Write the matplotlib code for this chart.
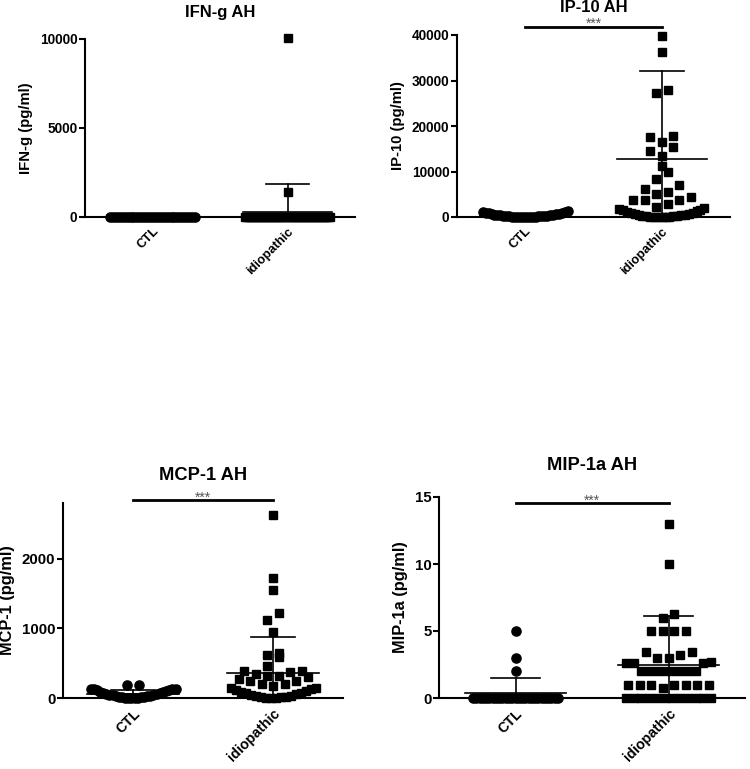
#!/usr/bin/env python3
"""Aqueous humour cytokines: CTL vs idiopathic, scatter dot plots with mean and SD."""

import matplotlib

matplotlib.use("Agg")
import matplotlib.pyplot as plt

plt.rcParams["font.family"] = ["Liberation Sans", "DejaVu Sans"]
plt.rcParams["font.weight"] = "bold"

GROUPS = ["CTL", "idiopathic"]

# values (pg/ml)
ifng_ctl = [0, 0, 0, 0, 0, 0, 0, 0, 0, 0, 0, 0, 0, 0, 0,
            0, 0, 0, 0, 0, 0, 0, 0, 0, 0, 0, 0, 0, 0, 0]
ifng_idio = [10060, 1410, 0, 0, 0, 0, 0, 0, 0, 0, 0, 0, 0, 0, 0,
             0, 0, 0, 0, 0, 0, 0, 0, 0, 0, 0, 0, 0, 0, 0,
             0, 0, 0, 0, 0, 0, 0, 0, 0, 0, 0, 0, 0, 0, 0]

ip10_ctl = [0, 5, 10, 20, 30, 45, 60, 80, 100, 120, 145, 170, 200, 230, 260,
            300, 340, 380, 430, 480, 530, 590, 650, 720, 790, 870, 950, 1040, 1150, 1380]
ip10_idio = [0, 5, 15, 30, 50, 80, 115, 160, 210, 270, 340, 420, 510, 610, 720,
             840, 970, 1110, 1260, 1430, 1620, 1830, 2050,
             2250, 2800, 3700, 3800, 3800, 4400, 5000, 5600, 6100, 7100, 8400, 9900,
             11200, 13400, 14500, 15400, 16400, 17500, 17800, 27200, 28000, 36300, 39800]

mcp1_ctl = [0, 1, 2, 4, 6, 9, 12, 15, 19, 23, 28, 33, 38, 44, 50,
            56, 63, 70, 77, 85, 93, 101, 110, 118, 125, 130, 133, 135, 185, 188]
mcp1_idio = [0, 2, 5, 9, 14, 20, 27, 35, 44, 54, 65, 77, 90, 104, 118, 130, 138, 142,
             170, 208, 208, 240, 245, 280, 305, 315, 320, 345, 375, 385, 385, 460,
             585, 620, 640, 945, 1125, 1220, 1550, 1720, 2630]

mip1a_ctl = [0, 0, 0, 0, 0, 0, 0, 0, 0, 0, 0, 0, 0, 0, 0,
             0, 0, 0, 0, 0, 0, 0, 0, 0, 0, 0, 0, 2, 3, 5]
mip1a_idio = [0, 0, 0, 0, 0, 0, 0, 0, 0, 0, 0, 0,
              0.75, 1, 1, 1, 1, 1, 1, 1,
              2, 2, 2, 2, 2, 2, 2, 2, 2.6, 2.6, 2.6, 2.7,
              3.0, 3.0, 3.2, 3.4, 3.4, 5, 5, 5, 5, 6.0, 6.3, 10, 13]

# mean and SD lines as drawn (CTL, idiopathic)
ifng_mean, ifng_sd = [0, 280], [0, 1560]
ip10_mean, ip10_sd = [330, 12700], [330, 19300]
mcp1_mean, mcp1_sd = [55, 362], [66, 508]
mip1a_mean, mip1a_sd = [0.4, 2.5], [1.1, 3.65]

PANELS = [
    dict(title="IFN-g AH", ylabel="IFN-g (pg/ml)", data=(ifng_ctl, ifng_idio),
         mean=ifng_mean, sd=ifng_sd, ymax=10000, yticks=[0, 5000, 10000],
         rect=(85, 39, 355, 217), stars=None, scale=1.0, title_off=19),
    dict(title="IP-10 AH", ylabel="IP-10 (pg/ml)", data=(ip10_ctl, ip10_idio),
         mean=ip10_mean, sd=ip10_sd, ymax=40000,
         yticks=[0, 10000, 20000, 30000, 40000],
         rect=(457, 35, 730, 217), stars=41800, scale=1.0, title_off=19.5),
    dict(title="MCP-1 AH", ylabel="MCP-1 (pg/ml)", data=(mcp1_ctl, mcp1_idio),
         mean=mcp1_mean, sd=mcp1_sd, ymax=2800, yticks=[0, 1000, 2000],
         rect=(63, 503, 343, 698), stars=2840, scale=1.1, title_off=20),
    dict(title="MIP-1a AH", ylabel="MIP-1a (pg/ml)", data=(mip1a_ctl, mip1a_idio),
         mean=mip1a_mean, sd=mip1a_sd, ymax=15, yticks=[0, 5, 10, 15],
         rect=(439, 497, 745, 698), stars=14.55, scale=1.1, title_off=23),
]

W, H = 750, 769


def swarm_offsets(values, ypx, step=11.5, max_span=85, row_h=10):
    """Prism-like layout: bin into rows, spread each row from the centre out."""
    order = sorted(range(len(values)), key=lambda i: values[i])
    offsets = [0.0] * len(values)
    i = 0
    while i < len(order):
        start = ypx(values[order[i]])
        row = [order[i]]
        j = i + 1
        while j < len(order) and ypx(values[order[j]]) - start < row_h:
            row.append(order[j])
            j += 1
        k = len(row)
        gap = step if k < 2 else min(step, max_span / (k - 1))
        slots = sorted(((s - (k - 1) / 2) * gap for s in range(k)), key=lambda o: (abs(o), o))
        for idx, off in zip(row, slots):
            offsets[idx] = off
        i = j
    return offsets


def draw_panel(fig, p):
    x0, y0, x1, y1 = p["rect"]
    ax = fig.add_axes([x0 / W, 1 - y1 / H, (x1 - x0) / W, (y1 - y0) / H])
    ax.set_xlim(0, 2)
    ax.set_ylim(0, p["ymax"])
    sc = p["scale"]

    px_x = (x1 - x0) / 2.0
    px_y = (y1 - y0) / p["ymax"]
    centres = [0.5, 1.5]
    markers = [("o", 6.6), ("s", 6.0)]

    for c, vals, (mk, ms) in zip(centres, p["data"], markers):
        offs = swarm_offsets(vals, lambda v: v * px_y)
        xs = [c + o / px_x for o in offs]
        ax.plot(xs, vals, linestyle="none", marker=mk, markersize=ms,
                color="black", clip_on=False, zorder=3)

    for c, m, s in zip(centres, p["mean"], p["sd"]):
        ax.plot([c - 0.33, c + 0.33], [m, m], color="black", lw=1.2, zorder=4)
        if s > 0:
            ax.plot([c, c], [max(m - s, 0), m + s], color="black", lw=1.2, zorder=4)
            ax.plot([c - 0.16, c + 0.16], [m + s, m + s], color="black", lw=1.2, zorder=4)

    if p["stars"] is not None:
        ax.plot(centres, [p["stars"]] * 2, color="black", lw=2.0, clip_on=False)
        ax.annotate("***", xy=(1.0, p["stars"]), xytext=(0, -1), textcoords="offset points",
                    ha="center", va="baseline", fontsize=10, fontweight="normal",
                    color="#555555", annotation_clip=False)

    for side in ("top", "right"):
        ax.spines[side].set_visible(False)
    for side in ("left", "bottom"):
        ax.spines[side].set_linewidth(1.5)

    ax.set_yticks(p["yticks"])
    ax.set_xticks(centres)
    ax.set_xticklabels(GROUPS, rotation=45, ha="right", rotation_mode="anchor",
                       fontsize=9.3 * sc, fontweight="bold")
    ax.tick_params(axis="y", length=4, width=1.5, pad=1.5, labelsize=9.8 * sc)
    ax.tick_params(axis="x", length=3, width=1.5, pad=3)
    ax.set_ylabel(p["ylabel"], fontsize=10.7 * sc, fontweight="bold", labelpad=5)

    ax.annotate(p["title"], xy=(0.5, 1.0), xycoords="axes fraction",
                xytext=(0, p["title_off"]), textcoords="offset points",
                ha="center", va="center", fontsize=12 * sc, fontweight="bold")
    return ax


def main() -> None:
    fig = plt.figure(figsize=(W / 100, H / 100), dpi=100)
    for p in PANELS:
        draw_panel(fig, p)
    fig.savefig("out.png", dpi=100, facecolor="white")
    plt.close(fig)


if __name__ == "__main__":
    main()
